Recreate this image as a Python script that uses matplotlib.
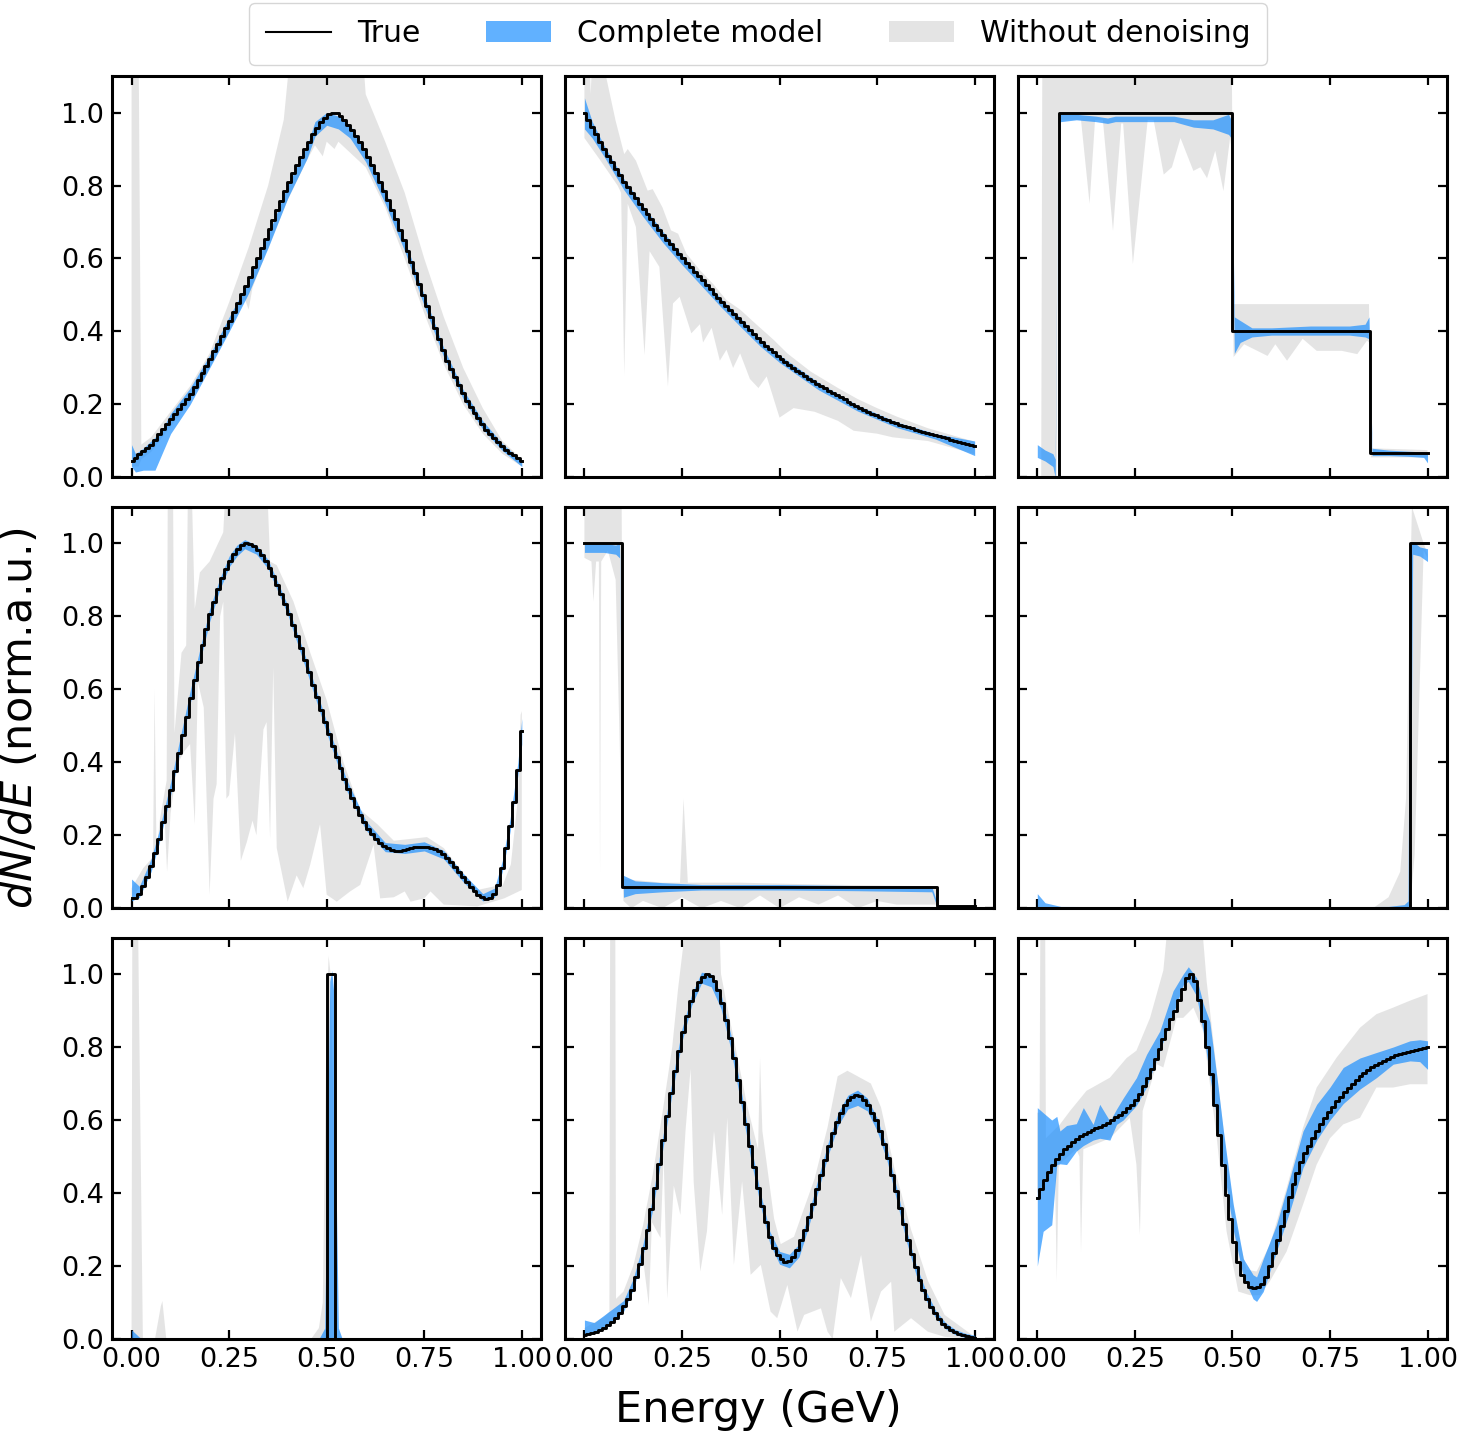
import numpy as np
import matplotlib
matplotlib.use("Agg")
from matplotlib import pyplot as plt
from matplotlib.lines import Line2D
from matplotlib.patches import Patch

# 100 energy bins between 0 and 1 GeV
energy = np.linspace(0, 1, 100)

# ---------------- true spectra (normalised) ----------------
true_1 = [0.045, 0.054, 0.063, 0.072, 0.081, 0.09, 0.104, 0.118, 0.132, 0.146,
          0.16, 0.174, 0.188, 0.202, 0.216, 0.23, 0.249, 0.268, 0.287, 0.306,
          0.325, 0.346, 0.367, 0.388, 0.409, 0.43, 0.454, 0.478, 0.502, 0.526,
          0.55, 0.576, 0.602, 0.628, 0.654, 0.68, 0.706, 0.732, 0.758, 0.784,
          0.81, 0.834, 0.857, 0.879, 0.90, 0.92, 0.94, 0.958, 0.973, 0.986,
          0.995, 1.0, 0.998, 0.99, 0.98, 0.967, 0.952, 0.936, 0.918, 0.899,
          0.879, 0.857, 0.834, 0.81, 0.785, 0.76, 0.734, 0.707, 0.679, 0.65,
          0.62, 0.59, 0.56, 0.53, 0.50, 0.47, 0.44, 0.41, 0.38, 0.35,
          0.32, 0.298, 0.276, 0.254, 0.232, 0.21, 0.194, 0.178, 0.162, 0.146,
          0.13, 0.119, 0.108, 0.097, 0.086, 0.075, 0.068, 0.061, 0.054, 0.046]
true_2 = [1.0, 0.98, 0.96, 0.94, 0.92, 0.90, 0.882, 0.864, 0.846, 0.828,
          0.81, 0.795, 0.78, 0.765, 0.75, 0.735, 0.721, 0.707, 0.693, 0.679,
          0.665, 0.652, 0.639, 0.626, 0.613, 0.60, 0.588, 0.576, 0.564, 0.552,
          0.54, 0.528, 0.516, 0.504, 0.492, 0.48, 0.469, 0.458, 0.447, 0.436,
          0.425, 0.414, 0.403, 0.392, 0.381, 0.37, 0.361, 0.352, 0.343, 0.334,
          0.325, 0.317, 0.309, 0.301, 0.293, 0.285, 0.278, 0.271, 0.264, 0.257,
          0.25, 0.244, 0.238, 0.232, 0.226, 0.22, 0.214, 0.208, 0.202, 0.196,
          0.19, 0.185, 0.18, 0.175, 0.17, 0.165, 0.161, 0.157, 0.153, 0.149,
          0.145, 0.142, 0.138, 0.135, 0.131, 0.128, 0.125, 0.122, 0.119, 0.116,
          0.113, 0.11, 0.107, 0.104, 0.101, 0.098, 0.095, 0.092, 0.089, 0.085]
true_3 = [0.0] * 6 + [1.0] * 44 + [0.4] * 35 + [0.067] * 15
true_4 = [0.027, 0.027, 0.04, 0.06, 0.085, 0.115, 0.15, 0.19, 0.235, 0.28,
          0.325, 0.375, 0.425, 0.475, 0.525, 0.575, 0.625, 0.675, 0.72, 0.765,
          0.805, 0.84, 0.875, 0.905, 0.93, 0.952, 0.97, 0.985, 0.995, 1.0,
          0.998, 0.992, 0.982, 0.968, 0.952, 0.932, 0.91, 0.886, 0.86, 0.833,
          0.805, 0.776, 0.745, 0.713, 0.68, 0.646, 0.612, 0.578, 0.544, 0.51,
          0.477, 0.445, 0.414, 0.384, 0.355, 0.328, 0.302, 0.278, 0.256, 0.236,
          0.218, 0.203, 0.19, 0.179, 0.17, 0.164, 0.16, 0.158, 0.158, 0.16,
          0.163, 0.166, 0.168, 0.169, 0.169, 0.168, 0.166, 0.162, 0.156, 0.148,
          0.138, 0.126, 0.113, 0.099, 0.085, 0.071, 0.058, 0.047, 0.037, 0.03,
          0.026, 0.028, 0.04, 0.064, 0.11, 0.165, 0.225, 0.29, 0.38, 0.485]
true_5 = [1.0] * 10 + [0.058] * 80 + [0.005] * 10
true_6 = [0.0] * 95 + [1.0] * 5
true_7 = [0.0] * 50 + [1.0] * 2 + [0.0] * 48
true_8 = [0.011, 0.013, 0.016, 0.02, 0.025, 0.031, 0.038, 0.047, 0.058, 0.072,
          0.09, 0.11, 0.135, 0.17, 0.205, 0.25, 0.30, 0.355, 0.415, 0.48,
          0.545, 0.61, 0.675, 0.735, 0.79, 0.84, 0.885, 0.925, 0.955, 0.978,
          0.993, 1.0, 0.995, 0.98, 0.955, 0.92, 0.875, 0.825, 0.77, 0.71,
          0.65, 0.59, 0.53, 0.47, 0.415, 0.365, 0.32, 0.28, 0.25, 0.23,
          0.218, 0.212, 0.215, 0.225, 0.245, 0.27, 0.30, 0.335, 0.37, 0.41,
          0.45, 0.49, 0.53, 0.565, 0.595, 0.62, 0.64, 0.655, 0.664, 0.668,
          0.665, 0.655, 0.64, 0.62, 0.60, 0.57, 0.535, 0.495, 0.45, 0.405,
          0.36, 0.315, 0.272, 0.232, 0.196, 0.163, 0.135, 0.11, 0.088, 0.07,
          0.055, 0.042, 0.032, 0.024, 0.018, 0.013, 0.01, 0.007, 0.005, 0.004]
true_9 = [0.386, 0.41, 0.435, 0.457, 0.476, 0.493, 0.508, 0.52, 0.53, 0.54,
          0.548, 0.555, 0.561, 0.567, 0.572, 0.577, 0.582, 0.587, 0.593, 0.60,
          0.607, 0.615, 0.623, 0.632, 0.642, 0.655, 0.672, 0.692, 0.715, 0.74,
          0.767, 0.795, 0.823, 0.85, 0.876, 0.90, 0.93, 0.96, 0.99, 1.0,
          0.98, 0.93, 0.87, 0.80, 0.725, 0.64, 0.56, 0.478, 0.395, 0.33,
          0.267, 0.21, 0.175, 0.155, 0.143, 0.14, 0.142, 0.15, 0.17, 0.20,
          0.235, 0.27, 0.31, 0.35, 0.39, 0.425, 0.455, 0.485, 0.51, 0.53,
          0.55, 0.57, 0.588, 0.605, 0.622, 0.637, 0.651, 0.664, 0.677, 0.689,
          0.70, 0.711, 0.72, 0.729, 0.737, 0.744, 0.751, 0.757, 0.763, 0.768,
          0.773, 0.777, 0.781, 0.784, 0.787, 0.79, 0.792, 0.795, 0.797, 0.80]

# ---------------- complete model band (energy, low, high) ----------------
model_x_1 = [0.0, 0.01, 0.03, 0.06, 0.08, 0.10, 0.15, 0.20, 0.25, 0.30, 0.35, 0.40, 0.45,
             0.47, 0.50, 0.53, 0.56, 0.60, 0.65, 0.70, 0.75, 0.80, 0.85, 0.90, 0.95, 1.0]
model_lo_1 = [0.03, 0.015, 0.02, 0.02, 0.07, 0.12, 0.20, 0.30, 0.40, 0.505, 0.63, 0.765, 0.875,
              0.935, 0.965, 0.955, 0.93, 0.865, 0.75, 0.62, 0.47, 0.33, 0.215, 0.132, 0.074, 0.03]
model_hi_1 = [0.09, 0.065, 0.08, 0.11, 0.135, 0.175, 0.245, 0.335, 0.44, 0.54, 0.665, 0.80, 0.91,
              0.975, 1.0, 0.99, 0.965, 0.895, 0.785, 0.65, 0.50, 0.355, 0.24, 0.155, 0.093, 0.046]

model_x_2 = [0.0, 0.02, 0.05, 0.10, 0.15, 0.20, 0.25, 0.30, 0.35, 0.40, 0.45, 0.50, 0.60,
             0.70, 0.80, 0.90, 1.0]
model_lo_2 = [0.955, 0.93, 0.88, 0.79, 0.715, 0.645, 0.583, 0.525, 0.467, 0.413, 0.36, 0.315, 0.24,
              0.182, 0.137, 0.105, 0.06]
model_hi_2 = [1.04, 0.975, 0.91, 0.82, 0.745, 0.675, 0.61, 0.55, 0.49, 0.437, 0.38, 0.335, 0.26,
              0.198, 0.152, 0.12, 0.10]

model_x_3 = [0.0, 0.02, 0.04, 0.046, 0.053, 0.06, 0.10, 0.15, 0.18, 0.20, 0.30, 0.35, 0.40, 0.45,
             0.49, 0.497, 0.505, 0.52, 0.55, 0.60, 0.70, 0.80, 0.84, 0.85, 0.858, 0.90, 0.95,
             0.99, 1.0]
model_lo_3 = [0.055, 0.045, 0.03, 0.0, 0.97, 0.975, 0.98, 0.975, 0.97, 0.975, 0.975, 0.975, 0.96,
              0.955, 0.94, 0.93, 0.34, 0.37, 0.385, 0.39, 0.39, 0.39, 0.385, 0.38, 0.06, 0.06,
              0.058, 0.055, 0.04]
model_hi_3 = [0.09, 0.075, 0.065, 0.05, 0.99, 0.995, 0.995, 0.99, 0.985, 0.99, 0.99, 0.99, 0.98,
              0.98, 0.995, 0.98, 0.44, 0.43, 0.41, 0.41, 0.415, 0.415, 0.42, 0.44, 0.08, 0.075,
              0.072, 0.07, 0.065]

model_x_4 = [0.0, 0.02, 0.05, 0.07, 0.10, 0.12, 0.15, 0.175, 0.20, 0.225, 0.25, 0.27, 0.29, 0.32,
             0.35, 0.40, 0.45, 0.50, 0.55, 0.60, 0.65, 0.70, 0.75, 0.80, 0.85, 0.90, 0.93, 0.95,
             0.97, 0.99, 1.0]
model_lo_4 = [0.02, 0.03, 0.10, 0.175, 0.31, 0.41, 0.56, 0.675, 0.785, 0.87, 0.935, 0.965, 0.985,
              0.97, 0.93, 0.805, 0.645, 0.48, 0.325, 0.215, 0.155, 0.15, 0.157, 0.135, 0.072,
              0.02, 0.03, 0.10, 0.21, 0.365, 0.45]
model_hi_4 = [0.08, 0.06, 0.135, 0.21, 0.345, 0.445, 0.595, 0.71, 0.82, 0.90, 0.965, 0.995, 1.01,
              0.995, 0.955, 0.83, 0.675, 0.51, 0.355, 0.24, 0.18, 0.175, 0.182, 0.158, 0.095,
              0.04, 0.055, 0.13, 0.245, 0.40, 0.52]

model_x_5 = [0.0, 0.05, 0.08, 0.09, 0.10, 0.13, 0.2, 0.3, 0.5, 0.7, 0.89, 0.905, 1.0]
model_lo_5 = [0.975, 0.975, 0.97, 0.96, 0.03, 0.04, 0.045, 0.05, 0.05, 0.048, 0.045, 0.0, 0.0]
model_hi_5 = [1.0, 1.0, 0.995, 1.0, 0.09, 0.075, 0.07, 0.065, 0.065, 0.062, 0.06, 0.01, 0.005]

model_x_6 = [0.0, 0.02, 0.06, 0.5, 0.9, 0.94, 0.95, 0.955, 0.962, 0.98, 1.0]
model_lo_6 = [0.0, 0.0, 0.0, 0.0, 0.0, 0.0, 0.0, 0.0, 0.97, 0.965, 0.95]
model_hi_6 = [0.04, 0.015, 0.005, 0.003, 0.005, 0.01, 0.02, 1.0, 1.005, 0.99, 0.985]

model_x_7 = [0.0, 0.02, 0.03, 0.48, 0.495, 0.503, 0.508, 0.513, 0.518, 0.523, 0.53, 0.54, 1.0]
model_lo_7 = [0.0, 0.0, 0.0, 0.0, 0.0, 0.0, 0.0, 0.0, 0.0, 0.0, 0.0, 0.0, 0.0]
model_hi_7 = [0.025, 0.005, 0.0, 0.0, 0.03, 0.6, 0.98, 1.01, 0.95, 0.5, 0.03, 0.0, 0.0]

model_x_8 = [0.00, 0.025, 0.05, 0.10, 0.125, 0.15, 0.175, 0.20, 0.225, 0.25, 0.275, 0.30, 0.325,
             0.35, 0.375, 0.40, 0.425, 0.45, 0.475, 0.50, 0.525, 0.55, 0.575, 0.60, 0.625, 0.65,
             0.675, 0.70, 0.725, 0.75, 0.775, 0.80, 0.825, 0.85, 0.875, 0.90, 0.925, 0.95,
             0.975, 1.00]
model_lo_8 = [0.01, 0.015, 0.03, 0.075, 0.135, 0.228, 0.355, 0.515, 0.675, 0.815, 0.915, 0.975,
              0.965, 0.905, 0.795, 0.65, 0.50, 0.37, 0.262, 0.205, 0.195, 0.225, 0.31, 0.41,
              0.505, 0.585, 0.63, 0.64, 0.625, 0.57, 0.49, 0.38, 0.268, 0.175, 0.107, 0.058,
              0.028, 0.012, 0.004, 0.0]
model_hi_8 = [0.052, 0.045, 0.065, 0.105, 0.165, 0.26, 0.39, 0.55, 0.71, 0.85, 0.945, 1.005,
              1.0, 0.945, 0.835, 0.69, 0.54, 0.405, 0.295, 0.24, 0.232, 0.26, 0.345, 0.445,
              0.54, 0.62, 0.668, 0.682, 0.66, 0.605, 0.525, 0.415, 0.30, 0.203, 0.132, 0.078,
              0.045, 0.026, 0.016, 0.01]

model_x_9 = [0.00, 0.015, 0.037, 0.05, 0.058, 0.075, 0.10, 0.118, 0.143, 0.16, 0.186, 0.203,
             0.22, 0.254, 0.28, 0.314, 0.348, 0.374, 0.387, 0.408, 0.425, 0.442, 0.46, 0.477,
             0.502, 0.528, 0.553, 0.562, 0.579, 0.613, 0.647, 0.681, 0.716, 0.75, 0.784, 0.827,
             0.869, 0.912, 0.955, 0.98, 1.0]
model_lo_9 = [0.20, 0.295, 0.313, 0.478, 0.48, 0.478, 0.515, 0.53, 0.545, 0.55, 0.545, 0.588,
              0.60, 0.64, 0.69, 0.79, 0.89, 0.97, 0.98, 0.94, 0.844, 0.72, 0.606, 0.47, 0.30,
              0.17, 0.11, 0.103, 0.13, 0.24, 0.35, 0.47, 0.545, 0.60, 0.645, 0.685, 0.716,
              0.753, 0.762, 0.76, 0.739]
model_hi_9 = [0.634, 0.62, 0.60, 0.61, 0.57, 0.585, 0.59, 0.634, 0.588, 0.643, 0.597, 0.63,
              0.66, 0.716, 0.78, 0.844, 0.954, 1.0, 1.02, 0.99, 0.92, 0.87, 0.72, 0.57, 0.37,
              0.22, 0.176, 0.17, 0.22, 0.313, 0.44, 0.57, 0.643, 0.69, 0.744, 0.77, 0.785, 0.80,
              0.817, 0.82, 0.817]

# ---------------- without denoising band: upper and lower edges ----------------
raw_top_x_1 = [0.0, 0.018, 0.025, 0.05, 0.10, 0.15, 0.20, 0.25, 0.30, 0.35, 0.39, 0.41, 0.59,
               0.60, 0.65, 0.70, 0.75, 0.80, 0.85, 0.90, 0.95, 1.0]
raw_top_1 = [1.2, 1.2, 0.09, 0.11, 0.18, 0.25, 0.34, 0.48, 0.63, 0.80, 0.98, 1.2, 1.2,
             1.05, 0.92, 0.78, 0.60, 0.44, 0.30, 0.19, 0.10, 0.05]
raw_bot_x_1 = [0.0, 0.018, 0.025, 0.05, 0.10, 0.15, 0.20, 0.25, 0.29, 0.30, 0.31, 0.35, 0.40,
               0.45, 0.47, 0.49, 0.50, 0.52, 0.53, 0.55, 0.60, 0.65, 0.70, 0.75, 0.80, 0.85,
               0.90, 0.95, 1.0]
raw_bot_1 = [0.03, 0.03, 0.05, 0.07, 0.14, 0.21, 0.30, 0.40, 0.49, 0.46, 0.52, 0.63, 0.76,
             0.87, 0.91, 0.88, 0.92, 0.90, 0.92, 0.90, 0.85, 0.74, 0.60, 0.45, 0.31, 0.20,
             0.12, 0.065, 0.03]

raw_top_x_2 = [0.0, 0.012, 0.016, 0.022, 0.035, 0.08, 0.102, 0.111, 0.132, 0.162, 0.175, 0.20,
               0.222, 0.24, 0.261, 0.296, 0.33, 0.364, 0.399, 0.44, 0.485, 0.52, 0.58, 0.65,
               0.70, 0.75, 0.80, 0.88, 1.0]
raw_top_2 = [1.2, 1.2, 1.05, 1.2, 1.2, 0.977, 0.886, 0.90, 0.868, 0.786, 0.79, 0.74,
             0.677, 0.668, 0.614, 0.568, 0.53, 0.486, 0.46, 0.42, 0.377, 0.34, 0.29, 0.245,
             0.215, 0.19, 0.167, 0.135, 0.098]
raw_bot_x_2 = [0.0, 0.02, 0.04, 0.085, 0.094, 0.102, 0.111, 0.132, 0.154, 0.167, 0.192, 0.214,
               0.227, 0.244, 0.274, 0.296, 0.304, 0.326, 0.347, 0.364, 0.381, 0.399, 0.424,
               0.446, 0.467, 0.50, 0.536, 0.59, 0.65, 0.69, 0.75, 0.79, 0.88, 1.0]
raw_bot_2 = [0.93, 0.90, 0.87, 0.80, 0.78, 0.28, 0.75, 0.686, 0.336, 0.62, 0.577, 0.25,
             0.477, 0.495, 0.395, 0.42, 0.37, 0.41, 0.32, 0.35, 0.30, 0.34, 0.27,
             0.245, 0.277, 0.164, 0.19, 0.18, 0.155, 0.128, 0.12, 0.11, 0.10, 0.064]

raw_top_x_3 = [0.01, 0.013, 0.498, 0.503, 0.85, 0.855, 1.0]
raw_top_3 = [0.0, 1.2, 1.2, 0.475, 0.475, 0.08, 0.075]
raw_bot_x_3 = [0.01, 0.05, 0.053, 0.112, 0.134, 0.148, 0.168, 0.194, 0.215, 0.22, 0.245, 0.283,
               0.298, 0.324, 0.345, 0.367, 0.40, 0.418, 0.435, 0.456, 0.477, 0.494, 0.498,
               0.503, 0.53, 0.59, 0.61, 0.64, 0.68, 0.716, 0.78, 0.82, 0.845, 0.85, 0.855, 1.0]
raw_bot_3 = [0.0, 0.0, 0.98, 0.98, 0.75, 0.98, 0.98, 0.676, 0.97, 0.97, 0.585, 0.98,
             0.98, 0.83, 0.85, 0.93, 0.84, 0.85, 0.82, 0.895, 0.785, 0.93, 0.90,
             0.33, 0.365, 0.333, 0.365, 0.32, 0.38, 0.347, 0.347, 0.338, 0.375, 0.37, 0.055, 0.055]

raw_top_x_4 = [0.0, 0.03, 0.055, 0.059, 0.064, 0.072, 0.09, 0.093, 0.106, 0.11, 0.128, 0.14,
               0.145, 0.153, 0.162, 0.175, 0.20, 0.235, 0.243, 0.346, 0.355, 0.372, 0.415,
               0.458, 0.50, 0.543, 0.586, 0.63, 0.672, 0.715, 0.757, 0.80, 0.843, 0.886, 0.93,
               0.95, 0.972, 0.99, 0.997, 1.0]
raw_top_4 = [0.055, 0.11, 0.14, 0.60, 0.15, 0.24, 0.35, 1.2, 1.2, 0.48, 0.70, 0.72,
             1.2, 1.2, 0.82, 0.92, 0.95, 1.03, 1.2, 1.2, 0.95, 0.94, 0.84,
             0.70, 0.57, 0.40, 0.27, 0.23, 0.185, 0.19, 0.195, 0.165, 0.105, 0.05, 0.06,
             0.06, 0.12, 0.30, 0.53, 0.54]
raw_bot_x_4 = [0.0, 0.05, 0.07, 0.085, 0.091, 0.10, 0.11, 0.12, 0.135, 0.15, 0.162, 0.17,
               0.185, 0.20, 0.21, 0.218, 0.227, 0.235, 0.243, 0.25, 0.265, 0.28, 0.295, 0.31,
               0.32, 0.338, 0.346, 0.355, 0.363, 0.372, 0.40, 0.423, 0.44, 0.458, 0.483, 0.50,
               0.526, 0.56, 0.586, 0.62, 0.637, 0.672, 0.70, 0.715, 0.75, 0.766, 0.80, 0.886,
               0.955, 1.0]
raw_bot_4 = [0.027, 0.10, 0.18, 0.24, 0.10, 0.26, 0.34, 0.40, 0.43, 0.45, 0.23, 0.62,
             0.55, 0.037, 0.30, 0.34, 0.80, 0.84, 0.30, 0.31, 0.48, 0.13, 0.18, 0.24,
             0.20, 0.49, 0.51, 0.19, 0.66, 0.165, 0.018, 0.09, 0.055, 0.12, 0.23, 0.037,
             0.018, 0.046, 0.064, 0.174, 0.027, 0.03, 0.046, 0.018, 0.027, 0.046, 0.01, 0.005,
             0.027, 0.05]

raw_top_x_5 = [0.0, 0.095, 0.10, 0.20, 0.245, 0.254, 0.265, 0.40, 0.60, 0.90, 0.905, 1.0]
raw_top_5 = [1.2, 1.2, 0.08, 0.07, 0.07, 0.30, 0.07, 0.07, 0.065, 0.06, 0.0, 0.0]
raw_bot_x_5 = [0.0, 0.018, 0.023, 0.03, 0.037, 0.04, 0.043, 0.06, 0.08, 0.095, 0.10, 0.12,
               0.15, 0.20, 0.25, 0.30, 0.35, 0.40, 0.45, 0.50, 0.55, 0.60, 0.65, 0.70, 0.75,
               0.80, 0.90, 0.905, 1.0]
raw_bot_5 = [0.96, 0.95, 0.84, 0.95, 0.95, 0.10, 0.95, 0.98, 0.90, 0.25, 0.02, 0.0,
             0.02, 0.0, 0.03, 0.0, 0.02, 0.0, 0.035, 0.0, 0.03, 0.01, 0.035, 0.0, 0.02,
             0.01, 0.01, 0.0, 0.0]

raw_top_x_6 = [0.0, 0.86, 0.90, 0.93, 0.945, 0.952, 0.96, 0.99, 1.0]
raw_top_6 = [0.0, 0.0, 0.03, 0.10, 0.30, 0.70, 1.1, 1.0, 0.97]
raw_bot_x_6 = [0.0, 0.955, 0.967, 0.99, 1.0]
raw_bot_6 = [0.0, 0.0, 0.146, 0.98, 0.96]

raw_top_x_7 = [0.0, 0.002, 0.016, 0.029, 0.06, 0.075, 0.079, 0.089, 0.46, 0.48, 0.49, 0.50,
               0.505, 0.51, 0.52, 0.525, 1.0]
raw_top_7 = [0.03, 1.2, 1.2, 0.0, 0.0, 0.09, 0.104, 0.0, 0.0, 0.03, 0.10, 0.90,
             1.05, 1.0, 0.5, 0.0, 0.0]
raw_bot_x_7 = [0.0, 1.0]
raw_bot_7 = [0.0, 0.0]

raw_top_x_8 = [0.0, 0.05, 0.064, 0.066, 0.079, 0.081, 0.10, 0.125, 0.15, 0.175, 0.20, 0.225,
               0.24, 0.267, 0.344, 0.35, 0.366, 0.387, 0.417, 0.445, 0.45, 0.456, 0.486, 0.503,
               0.537, 0.59, 0.623, 0.649, 0.674, 0.734, 0.76, 0.794, 0.837, 0.88, 0.923, 1.0]
raw_top_8 = [0.03, 0.06, 0.075, 1.2, 1.2, 0.11, 0.13, 0.20, 0.31, 0.45, 0.62, 0.80,
             0.96, 1.2, 1.2, 1.0, 0.91, 0.80, 0.64, 0.52, 0.77, 0.57, 0.33, 0.26,
             0.28, 0.44, 0.58, 0.72, 0.735, 0.70, 0.635, 0.47, 0.30, 0.16, 0.066, 0.006]
raw_bot_x_8 = [0.0, 0.057, 0.064, 0.079, 0.10, 0.125, 0.15, 0.165, 0.173, 0.195, 0.203, 0.212,
               0.229, 0.246, 0.259, 0.272, 0.28, 0.297, 0.314, 0.332, 0.353, 0.366, 0.383,
               0.404, 0.426, 0.452, 0.477, 0.494, 0.52, 0.546, 0.563, 0.606, 0.623, 0.636,
               0.657, 0.683, 0.709, 0.734, 0.76, 0.786, 0.794, 0.837, 0.88, 0.923, 1.0]
raw_bot_8 = [0.005, 0.025, 0.04, 0.05, 0.075, 0.14, 0.22, 0.093, 0.32, 0.277, 0.50, 0.11,
             0.42, 0.34, 0.57, 0.74, 0.43, 0.185, 0.295, 0.57, 0.34, 0.606, 0.203,
             0.432, 0.176, 0.203, 0.075, 0.057, 0.148, 0.02, 0.066, 0.084, 0.02, 0.0,
             0.167, 0.112, 0.23, 0.048, 0.13, 0.157, 0.02, 0.057, 0.02, 0.006, 0.0]

raw_top_x_9 = [0.0, 0.006, 0.008, 0.02, 0.022, 0.058, 0.084, 0.126, 0.186, 0.229, 0.254, 0.289,
               0.323, 0.34, 0.417, 0.434, 0.46, 0.485, 0.51, 0.536, 0.562, 0.596, 0.639, 0.681,
               0.716, 0.767, 0.827, 0.869, 0.912, 0.955, 1.0]
raw_top_9 = [0.62, 0.62, 1.2, 1.2, 0.55, 0.588, 0.625, 0.68, 0.716, 0.77, 0.79, 0.88,
             1.01, 1.2, 1.2, 0.98, 0.734, 0.50, 0.31, 0.19, 0.185, 0.258, 0.414, 0.579,
             0.689, 0.771, 0.853, 0.89, 0.908, 0.927, 0.945]
raw_bot_x_9 = [0.0, 0.045, 0.05, 0.055, 0.058, 0.10, 0.108, 0.112, 0.118, 0.186, 0.237, 0.254,
               0.263, 0.27, 0.306, 0.323, 0.357, 0.374, 0.40, 0.425, 0.46, 0.485, 0.515, 0.545,
               0.57, 0.596, 0.639, 0.681, 0.716, 0.75, 0.784, 0.827, 0.869, 0.912, 0.955, 1.0]
raw_bot_9 = [0.40, 0.47, 0.158, 0.47, 0.48, 0.52, 0.50, 0.24, 0.52, 0.55, 0.606, 0.478,
             0.286, 0.625, 0.753, 0.744, 0.88, 0.88, 0.908, 0.844, 0.55, 0.295, 0.13, 0.12,
             0.12, 0.158, 0.24, 0.368, 0.478, 0.55, 0.588, 0.606, 0.689, 0.689, 0.698, 0.698]

x_ticks = [0.0, 0.25, 0.5, 0.75, 1.0]
y_ticks = [0.0, 0.2, 0.4, 0.6, 0.8, 1.0]

BLUE = "dodgerblue"
GREY = "lightgray"


def main():
    trues = [true_1, true_2, true_3, true_4, true_5, true_6, true_7, true_8, true_9]
    models = [(model_x_1, model_lo_1, model_hi_1), (model_x_2, model_lo_2, model_hi_2),
              (model_x_3, model_lo_3, model_hi_3), (model_x_4, model_lo_4, model_hi_4),
              (model_x_5, model_lo_5, model_hi_5), (model_x_6, model_lo_6, model_hi_6),
              (model_x_7, model_lo_7, model_hi_7), (model_x_8, model_lo_8, model_hi_8),
              (model_x_9, model_lo_9, model_hi_9)]
    raws = [(raw_top_x_1, raw_top_1, raw_bot_x_1, raw_bot_1),
            (raw_top_x_2, raw_top_2, raw_bot_x_2, raw_bot_2),
            (raw_top_x_3, raw_top_3, raw_bot_x_3, raw_bot_3),
            (raw_top_x_4, raw_top_4, raw_bot_x_4, raw_bot_4),
            (raw_top_x_5, raw_top_5, raw_bot_x_5, raw_bot_5),
            (raw_top_x_6, raw_top_6, raw_bot_x_6, raw_bot_6),
            (raw_top_x_7, raw_top_7, raw_bot_x_7, raw_bot_7),
            (raw_top_x_8, raw_top_8, raw_bot_x_8, raw_bot_8),
            (raw_top_x_9, raw_top_9, raw_bot_x_9, raw_bot_9)]

    fig, axes = plt.subplots(3, 3, figsize=(14.59, 14.37), dpi=100, sharex=True, sharey=True)
    fig.subplots_adjust(left=0.0768, right=0.9918, bottom=0.0682, top=0.9471,
                        wspace=0.055, hspace=0.073)

    for ax, true, model, raw in zip(axes.flat, trues, models, raws):
        tx, ty, bx, by = raw
        ax.fill(np.concatenate([tx, bx[::-1]]), np.concatenate([ty, by[::-1]]),
                color=GREY, alpha=0.6, lw=0, zorder=1)
        ax.fill_between(model[0], model[1], model[2], color=BLUE, alpha=0.7, lw=0, zorder=2)
        ax.plot(energy, true, drawstyle="steps-mid", color="k", lw=2.1, zorder=3)

        ax.set_xlim(-0.05, 1.05)
        ax.set_ylim(0, 1.1)
        ax.set_xticks(x_ticks)
        ax.set_yticks(y_ticks)
        ax.tick_params(direction="in", top=True, right=True, length=6.5, width=1.6,
                       labelsize=19.5, pad=6)
        for s in ax.spines.values():
            s.set_linewidth(2.2)

    handles = [Line2D([], [], color="k", lw=1.5),
               Patch(facecolor=BLUE, alpha=0.7),
               Patch(facecolor=GREY, alpha=0.6)]
    fig.legend(handles, ["True", "Complete model", "Without denoising"],
               loc="upper center", bbox_to_anchor=(0.5195, 0.998), ncol=3, fontsize=21.5,
               borderaxespad=0, borderpad=0.55, handlelength=2.2, columnspacing=2.2,
               handletextpad=0.85)

    fig.text(0.52, 0.019, "Energy (GeV)", ha="center", va="center", fontsize=31)
    fig.text(0.014, 0.5, r"$dN/dE$ (norm.a.u.)", rotation=90, ha="center", va="center",
             fontsize=31)

    fig.savefig("out.png", dpi=100)


if __name__ == "__main__":
    main()
